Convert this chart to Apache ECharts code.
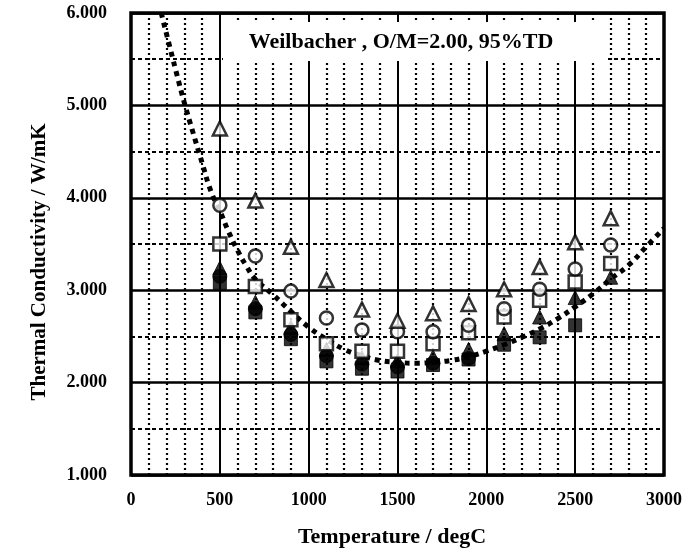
<!DOCTYPE html>
<html>
<head>
<meta charset="utf-8">
<script src="https://cdn.jsdelivr.net/npm/echarts@6/dist/echarts.min.js"></script>
<style>html,body{margin:0;padding:0;background:#fff}#c{width:691px;height:552px}</style>
</head>
<body>
<div id="c"></div>
<script>
var temps = [500,700,900,1100,1300,1500,1700,1900,2100,2300,2500,2700];
var openTri    = [4.75,3.97,3.47,3.11,2.79,2.67,2.75,2.85,3.01,3.25,3.52,3.78];
var openCircle = [3.92,3.37,2.99,2.70,2.57,2.55,2.55,2.62,2.80,3.01,3.23,3.49];
var openSquare = [3.50,3.04,2.68,2.42,2.34,2.34,2.42,2.54,2.71,2.89,3.09,3.29];
var filledTri    = [3.24,2.87,2.60,2.36,2.27,2.24,2.28,2.36,2.53,2.71,2.92,3.14];
var filledCircle = [3.15,2.80,2.52,2.29,2.20,2.17,2.21,2.26,null,null,null,null];
var filledSquare = [3.08,2.76,2.47,2.23,2.15,2.12,2.19,2.25,2.41,2.49,2.62,null];
var curveT = [170,220,260,300,350,400,450,500,550,600,650,700,800,900,1000,1100,1200,1300,1400,1500,1600,1700,1800,1900,2000,2100,2200,2300,2400,2500,2600,2700,2800,2900,3000];
var curveK = [6.0,5.62,5.32,5.03,4.70,4.38,4.07,3.86,3.63,3.43,3.26,3.12,2.95,2.77,2.60,2.47,2.36,2.29,2.24,2.22,2.21,2.22,2.24,2.28,2.34,2.41,2.49,2.58,2.69,2.82,2.96,3.12,3.27,3.47,3.67];
var yTicks = [1,2,3,4,5,6];
var xTicks = [0,500,1000,1500,2000,2500,3000];
var titleText = 'Weilbacher , O/M=2.00, 95%TD';
var xName = 'Temperature / degC';
var yName = 'Thermal Conductivity / W/mK';

function pairs(xs, ys){ var r=[]; for(var i=0;i<xs.length;i++){ if(ys[i]!=null) r.push([xs[i],ys[i]]);} return r; }
var FONT = '"Liberation Serif","Times New Roman",serif';
function sc(name, data, symbol, filled, size){
  return {name:name, type:'scatter', data:data, symbol:symbol, symbolSize:size, z:3,
    itemStyle: filled ? {color:'#000', borderColor:'#000', borderWidth:1} : {color:'#fff', borderColor:'#000', borderWidth:2.5}};
}
var chart = echarts.init(document.getElementById('c'), null, {renderer:'canvas'});
chart.setOption({
  animation:false,
  backgroundColor:'#fff',
  grid:{left:131, right:27, top:13, bottom:77, show:true, borderColor:'#000', borderWidth:3.5, backgroundColor:'transparent'},
  xAxis:{type:'value', min:xTicks[0], max:xTicks[xTicks.length-1], interval:500,
    axisLine:{show:false}, axisTick:{show:false},
    axisLabel:{color:'#000', fontFamily:FONT, fontWeight:'bold', fontSize:18, margin:16, formatter:function(v){return String(v);}},
    splitLine:{show:true, lineStyle:{color:'#000', width:2}},
    minorTick:{show:false, splitNumber:5},
    minorSplitLine:{show:true, lineStyle:{color:'#000', width:2.2, type:[2,3]}}
  },
  yAxis:{type:'value', min:yTicks[0], max:yTicks[yTicks.length-1], interval:1,
    axisLine:{show:false}, axisTick:{show:false},
    axisLabel:{color:'#000', fontFamily:FONT, fontWeight:'bold', fontSize:18, margin:24, formatter:function(v){return v.toFixed(3);}},
    splitLine:{show:true, lineStyle:{color:'#000', width:2.5}},
    minorTick:{show:false, splitNumber:2},
    minorSplitLine:{show:true, lineStyle:{color:'#000', width:2.2, type:[4,3]}}
  },
  graphic:[
    {type:'rect', z:1, shape:{x:223, y:22, width:385, height:39}, style:{fill:'#fff'}},
    {type:'text', z:2, x:401, y:42, style:{text:titleText, font:'bold 22px '+FONT, fill:'#000', textAlign:'center', textVerticalAlign:'middle'}},
    {type:'text', z:2, x:392, y:537, style:{text:xName, font:'bold 22px '+FONT, fill:'#000', textAlign:'center', textVerticalAlign:'middle'}},
    {type:'text', z:2, x:40, y:262, rotation:Math.PI/2, style:{text:yName, font:'bold 21px '+FONT, fill:'#000', textAlign:'center', textVerticalAlign:'middle'}}
  ],
  series:[
    {name:'curve', type:'line', data:pairs(curveT, curveK), showSymbol:false, smooth:true, z:2,
      lineStyle:{color:'#000', width:5, type:[5,5]}},
    sc('filledSquare', pairs(temps, filledSquare), 'rect', true, 13),
    sc('filledCircle', pairs(temps, filledCircle), 'circle', true, 14),
    sc('filledTri', pairs(temps, filledTri), 'triangle', true, 14),
    sc('openSquare', pairs(temps, openSquare), 'rect', false, 13),
    sc('openCircle', pairs(temps, openCircle), 'circle', false, 13),
    sc('openTri', pairs(temps, openTri), 'triangle', false, 14)
  ]
});
</script>
</body>
</html>
